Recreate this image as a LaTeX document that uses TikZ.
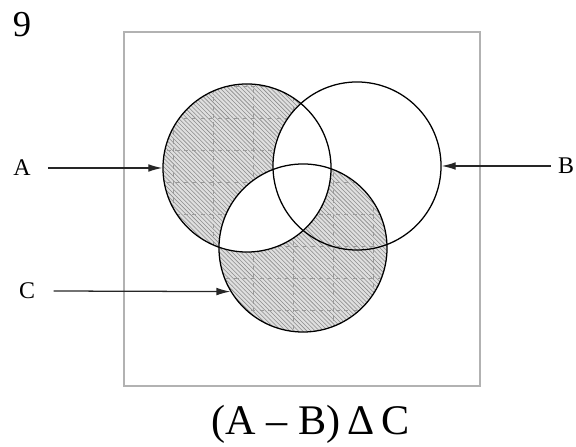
\documentclass[tikz,border=0pt]{standalone}
\usepackage{fontspec}
\setmainfont{Liberation Serif}
\usetikzlibrary{patterns,arrows.meta}

\tikzset{
  venn/.style={circle, draw, line width=0.9pt, minimum size=4.2cm, inner sep=0pt},
  hatch/.style={fill=gray!25, postaction={pattern=north west lines, pattern color=gray!90}},
  gridline/.style={gray!80, dashed, line width=0.55pt},
  setlabel/.style={font=\fontsize{17}{18}\selectfont, inner sep=1pt},
  pointer/.style={->, line width=0.9pt, black!85},
}

\begin{document}
\begin{tikzpicture}[x=0.025cm, y=0.025cm, >={Latex[length=10pt,width=5.5pt]}]
    \useasboundingbox (0,0) rectangle (576,446);
    % shaded parts: A only and C outside A
    \fill[hatch] (247,278) circle (84);
    \fill[hatch] (303,198) circle (84);
    \begin{scope}
        \clip (247,278) circle (84) (303,198) circle (84);
        \foreach \gx in {173,213,...,413}
            \draw[gridline] (\gx,100) -- (\gx,370);
        \foreach \gy in {104,136,...,360}
            \draw[gridline] (150,\gy) -- (400,\gy);
    \end{scope}
    \begin{scope}
        \clip (247,278) circle (84);
        \fill[white] (357,280) circle (84) (303,198) circle (84);
    \end{scope}
    % the three sets
    \node[venn] (ca) at (247,278) {};
    \node[venn] (cb) at (357,280) {};
    \node[venn] (cc) at (303,198) {};
    \draw[gray!60, line width=1pt] (124,60) rectangle (480,414);
    \node[setlabel] (la) at (22,278) {A};
    \node[setlabel] (lb) at (566,280) {B};
    \node[setlabel] (lc) at (27,155) {C};
    \draw[pointer] ([xshift=11pt]la.east) -- (ca.west);
    \draw[pointer] ([xshift=-4pt]lb.west) -- (cb.east);
    \draw[pointer] ([xshift=12pt]lc.east) -- (cc.211);
    \node[font=\fontsize{26}{28}\selectfont] (num) at (22,421) {9};
    \node[font=\fontsize{30}{32}\selectfont] (expr) at (311,22) {(A – B)\,Δ\,C};
\end{tikzpicture}
\end{document}
